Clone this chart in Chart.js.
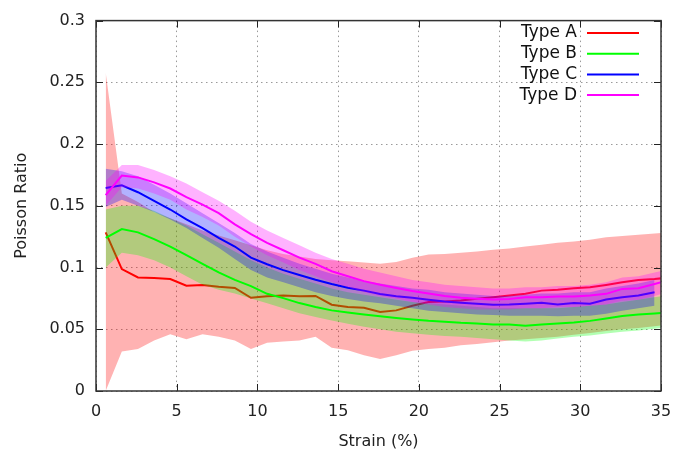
<!DOCTYPE html>
<html>
<head>
<meta charset="utf-8">
<script src="https://cdn.jsdelivr.net/npm/chart.js@4/dist/chart.umd.min.js"></script>
<style>
  body { margin: 0; background: #fff; }
</style>
</head>
<body>
<canvas id="mycanvas" width="699" height="455"></canvas>
<script>
// strain positions (%)
const strain = [0.6, 1.6, 2.6, 3.6, 4.6, 5.6, 6.6, 7.6, 8.6, 9.6, 10.6, 11.6, 12.6, 13.6, 14.6, 15.6, 16.6, 17.6,
  18.6, 19.6, 20.6, 21.6, 22.6, 23.6, 24.6, 25.6, 26.6, 27.6, 28.6, 29.6, 30.6, 31.6, 32.6, 33.6, 34.6, 35.6];

const seriesNames = ['Type A', 'Type B', 'Type C', 'Type D'];

// Type A
const typeA = [0.1285, 0.0987, 0.092, 0.0915, 0.0907, 0.0853, 0.0859, 0.0845, 0.0835, 0.0755, 0.0768, 0.0773, 0.0768, 0.077,
  0.0699, 0.068, 0.0675, 0.064, 0.0653, 0.069, 0.072, 0.0725, 0.0733, 0.0747, 0.076, 0.0773, 0.0787, 0.0813, 0.0821, 0.0832,
  0.084, 0.0859, 0.088, 0.0899, 0.0907, 0.092];
const typeAHi = [0.258, 0.160, 0.153, 0.145, 0.140, 0.135, 0.130, 0.126, 0.122, 0.118, 0.114, 0.111, 0.109, 0.107, 0.106,
  0.105, 0.104, 0.103, 0.1045, 0.108, 0.1105, 0.111, 0.112, 0.113, 0.1145, 0.1155, 0.117, 0.1185, 0.120, 0.121, 0.1225,
  0.1245, 0.1255, 0.1265, 0.1275, 0.1285];
const typeALo = [0.000, 0.032, 0.034, 0.041, 0.046, 0.042, 0.046, 0.044, 0.041, 0.034, 0.039, 0.040, 0.041, 0.044, 0.035,
  0.033, 0.029, 0.026, 0.029, 0.0325, 0.034, 0.035, 0.037, 0.038, 0.0395, 0.041, 0.042, 0.043, 0.044, 0.0455, 0.047,
  0.0485, 0.050, 0.051, 0.0525, 0.054];

// Type B
const typeB = [0.124, 0.1312, 0.1285, 0.123, 0.117, 0.110, 0.103, 0.096, 0.090, 0.085, 0.0787, 0.0752, 0.0712, 0.068,
  0.0653, 0.0635, 0.0619, 0.0605, 0.0592, 0.0579, 0.0568, 0.056, 0.0552, 0.0547, 0.0539, 0.0539, 0.0528, 0.0539, 0.0547,
  0.0555, 0.0568, 0.0587, 0.0608, 0.0619, 0.0627, 0.0637];
const typeBHi = [0.147, 0.150, 0.150, 0.146, 0.140, 0.134, 0.127, 0.120, 0.113, 0.106, 0.100, 0.095, 0.091, 0.087, 0.083,
  0.080, 0.078, 0.076, 0.074, 0.072, 0.071, 0.070, 0.069, 0.068, 0.067, 0.067, 0.067, 0.067, 0.067, 0.068, 0.069, 0.070,
  0.072, 0.074, 0.076, 0.078];
const typeBLo = [0.100, 0.112, 0.110, 0.106, 0.100, 0.093, 0.086, 0.082, 0.079, 0.075, 0.071, 0.067, 0.063, 0.060, 0.057,
  0.0545, 0.052, 0.050, 0.048, 0.0467, 0.0455, 0.0445, 0.044, 0.043, 0.042, 0.041, 0.040, 0.041, 0.0425, 0.044, 0.045,
  0.0465, 0.048, 0.049, 0.0505, 0.052];

// Type C (stops a little before 35)
const typeC = [0.1645, 0.1666, 0.161, 0.154, 0.147, 0.139, 0.132, 0.124, 0.117, 0.108, 0.1027, 0.0979, 0.0939, 0.0901,
  0.0867, 0.0837, 0.0813, 0.0785, 0.0768, 0.0755, 0.0739, 0.0725, 0.0715, 0.0707, 0.0699, 0.0701, 0.0707, 0.0715, 0.0701,
  0.0712, 0.0707, 0.0741, 0.076, 0.0773, 0.080];
const typeCHi = [0.180, 0.178, 0.174, 0.167, 0.160, 0.152, 0.144, 0.136, 0.128, 0.119, 0.113, 0.108, 0.103, 0.099, 0.095,
  0.092, 0.089, 0.087, 0.085, 0.083, 0.082, 0.080, 0.079, 0.078, 0.077, 0.077, 0.078, 0.079, 0.079, 0.080, 0.080, 0.083,
  0.085, 0.087, 0.090];
const typeCLo = [0.149, 0.155, 0.150, 0.145, 0.139, 0.132, 0.124, 0.116, 0.107, 0.098, 0.092, 0.088, 0.084, 0.080, 0.077,
  0.0745, 0.0725, 0.071, 0.069, 0.067, 0.065, 0.064, 0.063, 0.062, 0.0615, 0.061, 0.061, 0.061, 0.0605, 0.061, 0.061,
  0.0625, 0.065, 0.067, 0.069];

// Type D
const typeD = [0.1586, 0.1745, 0.173, 0.169, 0.164, 0.157, 0.151, 0.144, 0.135, 0.127, 0.120, 0.114, 0.108, 0.103, 0.097,
  0.093, 0.089, 0.086, 0.0835, 0.081, 0.079, 0.077, 0.0755, 0.0747, 0.0741, 0.0745, 0.076, 0.076, 0.0765, 0.0765, 0.0773,
  0.0787, 0.0827, 0.0832, 0.0867, 0.090];
const typeDHi = [0.170, 0.183, 0.183, 0.179, 0.174, 0.168, 0.161, 0.154, 0.146, 0.137, 0.130, 0.124, 0.118, 0.112, 0.107,
  0.103, 0.099, 0.096, 0.093, 0.090, 0.088, 0.086, 0.085, 0.084, 0.083, 0.083, 0.084, 0.084, 0.085, 0.085, 0.086, 0.088,
  0.092, 0.093, 0.096, 0.099];
const typeDLo = [0.150, 0.165, 0.164, 0.160, 0.155, 0.147, 0.141, 0.134, 0.125, 0.117, 0.110, 0.104, 0.098, 0.093, 0.088,
  0.084, 0.080, 0.077, 0.075, 0.072, 0.070, 0.068, 0.067, 0.066, 0.066, 0.066, 0.067, 0.067, 0.068, 0.068, 0.069, 0.070,
  0.073, 0.074, 0.077, 0.081];

const xTickLabels = ['0', '5', '10', '15', '20', '25', '30', '35'];
const yTickLabels = ['0', '0.05', '0.1', '0.15', '0.2', '0.25', '0.3'];

const lineColors = ['#ff0000', '#00ff00', '#0000ff', '#ff00ff'];
const bandColors = ['rgba(255,0,0,0.3)', 'rgba(0,255,0,0.3)', 'rgba(0,0,255,0.3)', 'rgba(255,0,255,0.3)'];

function pts(ys) {
  return ys.map(function (y, i) { return { x: strain[i], y: y }; });
}

var groups = [
  [typeAHi, typeALo, typeA],
  [typeBHi, typeBLo, typeB],
  [typeCHi, typeCLo, typeC],
  [typeDHi, typeDLo, typeD]
];

// band upper (fills to lower), band lower, then the line; gnuplot order: A band, A line, B band, ...
var datasets = [];
var ord = 100;
groups.forEach(function (g, k) {
  datasets.push({ label: seriesNames[k] + ' hi', data: pts(g[0]), fill: '+1', backgroundColor: bandColors[k],
    borderWidth: 0, pointRadius: 0, order: ord--, isBand: true });
  datasets.push({ label: seriesNames[k] + ' lo', data: pts(g[1]), fill: false, borderWidth: 0,
    pointRadius: 0, order: ord--, isBand: true });
  datasets.push({ label: seriesNames[k], data: pts(g[2]), fill: false, borderColor: lineColors[k],
    borderWidth: 2, pointRadius: 0, order: ord--, isBand: false });
});

// inward tick marks, frame and gnuplot-like key
const framePlugin = {
  id: 'frame',
  afterDraw: function (chart) {
    var ctx = chart.ctx, a = chart.chartArea;
    var xs = chart.scales.x, ys = chart.scales.y;
    ctx.save();
    ctx.strokeStyle = '#222';
    ctx.lineWidth = 1;
    ctx.beginPath();
    xs.ticks.forEach(function (t) {
      var px = Math.round(xs.getPixelForValue(t.value)) + 0.5;
      ctx.moveTo(px, a.bottom); ctx.lineTo(px, a.bottom - 7);
      ctx.moveTo(px, a.top); ctx.lineTo(px, a.top + 7);
    });
    ys.ticks.forEach(function (t) {
      var py = Math.round(ys.getPixelForValue(t.value)) + 0.5;
      ctx.moveTo(a.left, py); ctx.lineTo(a.left + 7, py);
      ctx.moveTo(a.right, py); ctx.lineTo(a.right - 7, py);
    });
    ctx.stroke();
    ctx.lineWidth = 1.5;
    ctx.strokeStyle = '#333';
    ctx.strokeRect(a.left, a.top, a.right - a.left, a.bottom - a.top);

    // key
    ctx.font = '17px "DejaVu Sans"';
    ctx.textAlign = 'right';
    ctx.textBaseline = 'middle';
    seriesNames.forEach(function (name, k) {
      var y = 33 + k * 20.7;
      ctx.fillStyle = '#111';
      ctx.fillText(name, 577, y);
      ctx.strokeStyle = lineColors[k];
      ctx.lineWidth = 2;
      ctx.beginPath();
      ctx.moveTo(587, y);
      ctx.lineTo(639, y);
      ctx.stroke();
    });
    ctx.restore();
  }
};

const config = {
  type: 'line',
  data: { datasets: datasets },
  plugins: [framePlugin],
  options: {
    responsive: false,
    animation: false,
    layout: { padding: { top: 14, right: 38, left: 0, bottom: 0 } },
    plugins: {
      legend: { display: false },
      tooltip: { enabled: false },
      filler: { drawTime: 'beforeDatasetDraw' }
    },
    elements: { line: { tension: 0 } },
    scales: {
      x: {
        type: 'linear',
        min: 0,
        max: 35,
        afterFit: function (s) { s.height = 64; },
        ticks: {
          stepSize: 5,
          padding: 11,
          color: '#222',
          font: { family: 'DejaVu Sans', size: 16 },
          callback: function (v) { return xTickLabels[Math.round(v / 5)]; }
        },
        grid: { color: '#9a9a9a', lineWidth: 1, drawTicks: false },
        border: { display: false, dash: [1.5, 3.5] },
        title: {
          display: true,
          text: 'Strain (%)',
          color: '#222',
          font: { family: 'DejaVu Sans', size: 16 },
          padding: { top: 0, bottom: 4 }
        }
      },
      y: {
        min: 0,
        max: 0.3,
        afterFit: function (s) { s.width = 96; },
        ticks: {
          stepSize: 0.05,
          padding: 11,
          color: '#222',
          font: { family: 'DejaVu Sans', size: 16 },
          callback: function (v) { return yTickLabels[Math.round(v / 0.05)]; }
        },
        grid: { color: '#9a9a9a', lineWidth: 1, drawTicks: false },
        border: { display: false, dash: [1.5, 3.5] },
        title: {
          display: true,
          text: 'Poisson Ratio',
          color: '#222',
          font: { family: 'DejaVu Sans', size: 16 },
          padding: { top: 12, bottom: 0 }
        }
      }
    }
  }
};

var myChart = new Chart(document.getElementById('mycanvas'), config);
</script>
</body>
</html>
